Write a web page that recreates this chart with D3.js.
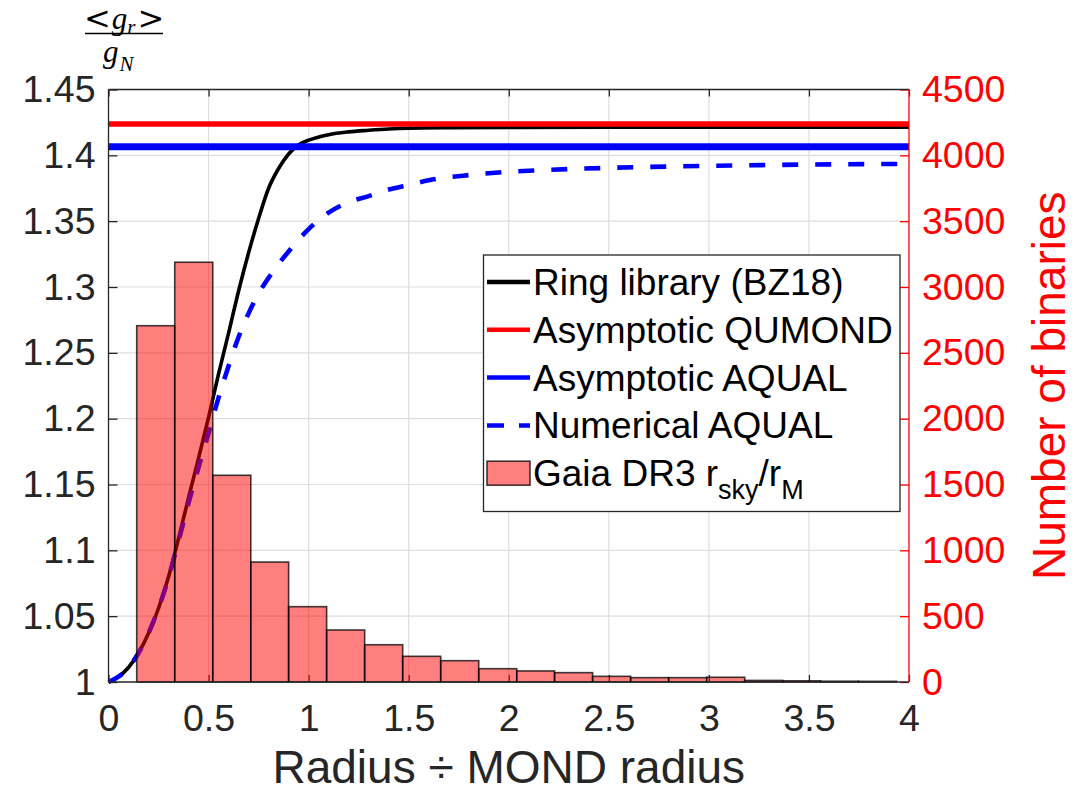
<!DOCTYPE html>
<html>
<head>
<meta charset="utf-8">
<script src="https://cdn.jsdelivr.net/npm/d3@7"></script>
<style>
  body { margin: 0; background: #fff; }
  svg { display: block; font-family: "Liberation Sans", Arial, sans-serif; }
</style>
</head>
<body>
<div id="chart"></div>
<script>
// ring library curve (BZ18): radius / MOND radius vs <g_r>/g_N
var ringRadius = [0, 0.05, 0.1, 0.15, 0.2, 0.25, 0.3, 0.35, 0.4, 0.45, 0.5, 0.55, 0.6, 0.65, 0.7, 0.75, 0.8, 0.85, 0.9, 0.95, 1.0, 1.1, 1.2, 1.3, 1.4, 1.5, 1.7, 2.0, 2.5, 3.0, 4.0];
var ringBoost = [1.0, 1.004, 1.011, 1.022, 1.037, 1.056, 1.080, 1.109, 1.140, 1.170, 1.201, 1.234, 1.265, 1.297, 1.326, 1.352, 1.375, 1.390, 1.401, 1.408, 1.4115, 1.4157, 1.4178, 1.419, 1.4200, 1.4206, 1.4210, 1.4212, 1.4213, 1.4213, 1.4213];

// numerical AQUAL curve
var aqualRadius = [0, 0.05, 0.1, 0.15, 0.2, 0.25, 0.3, 0.35, 0.4, 0.45, 0.5, 0.55, 0.6, 0.65, 0.7, 0.75, 0.8, 0.9, 1.0, 1.1, 1.2, 1.3, 1.4, 1.5, 1.6, 1.8, 2.0, 2.2, 2.5, 3.0, 3.5, 4.0];
var aqualBoost = [1.0, 1.004, 1.011, 1.022, 1.037, 1.056, 1.079, 1.107, 1.136, 1.163, 1.189, 1.216, 1.240, 1.262, 1.280, 1.295, 1.307, 1.327, 1.344, 1.3565, 1.3645, 1.369, 1.374, 1.3775, 1.381, 1.385, 1.3875, 1.389, 1.3905, 1.392, 1.393, 1.3935];

// asymptotic values
var qumondLevel = 1.4238;
var aqualLevel = 1.4066;

// Gaia DR3 histogram of r_sky / r_M
var binEdges = [0.141, 0.331, 0.521, 0.711, 0.900, 1.090, 1.280, 1.470, 1.660, 1.850, 2.040, 2.229, 2.419, 2.609, 2.799, 2.989, 3.179, 3.369, 3.558, 3.748, 3.938];
var binCounts = [2706, 3188, 1570, 911, 572, 395, 283, 195, 162, 101, 84, 71, 43, 33, 33, 36, 12, 9, 6, 5];

// ticks
var xTicks = [0, 0.5, 1, 1.5, 2, 2.5, 3, 3.5, 4];
var xTickLabels = ["0", "0.5", "1", "1.5", "2", "2.5", "3", "3.5", "4"];
var leftTicks = [1, 1.05, 1.1, 1.15, 1.2, 1.25, 1.3, 1.35, 1.4, 1.45];
var leftTickLabels = ["1", "1.05", "1.1", "1.15", "1.2", "1.25", "1.3", "1.35", "1.4", "1.45"];
var rightTicks = [0, 500, 1000, 1500, 2000, 2500, 3000, 3500, 4000, 4500];

var legendLabels = ["Ring library (BZ18)", "Asymptotic QUMOND", "Asymptotic AQUAL", "Numerical AQUAL"];

var width = 1079, height = 796;
// plot box (window.top is read only, so no bare "top")
var plotL = 108.5, plotR = 909, plotT = 89.5, plotB = 682;
var axisColor = "#262626";

var x = d3.scaleLinear().domain([0, 4]).range([plotL, plotR]);
var yL = d3.scaleLinear().domain([1, 1.45]).range([plotB, plotT]);
var yR = d3.scaleLinear().domain([0, 4500]).range([plotB, plotT]);

var svg = d3.select("#chart").append("svg")
    .attr("width", width)
    .attr("height", height);

svg.append("rect").attr("width", width).attr("height", height).attr("fill", "#fff");

// grid
var grid = svg.append("g").attr("stroke", "#dedede").attr("stroke-width", 1.2);
grid.selectAll(".gx").data(xTicks.slice(1, -1)).join("line")
    .attr("x1", d => x(d)).attr("x2", d => x(d))
    .attr("y1", plotT).attr("y2", plotB);
grid.selectAll(".gy").data(leftTicks.slice(1, -1)).join("line")
    .attr("x1", plotL).attr("x2", plotR)
    .attr("y1", d => yL(d)).attr("y2", d => yL(d));

// curves
var line = d3.line()
    .x(d => x(d[0]))
    .y(d => yL(d[1]))
    .curve(d3.curveMonotoneX);

var ringData = ringRadius.map((r, i) => [r, ringBoost[i]]);
var aqualData = aqualRadius.map((r, i) => [r, aqualBoost[i]]);

svg.append("path")
    .datum(ringData)
    .attr("d", line)
    .attr("fill", "none")
    .attr("stroke", "#000")
    .attr("stroke-width", 3.6);

svg.append("path")
    .datum(aqualData)
    .attr("d", line)
    .attr("fill", "none")
    .attr("stroke", "#0000ff")
    .attr("stroke-width", 4.6)
    .attr("stroke-dasharray", "16 17");

svg.append("line")
    .attr("x1", x(0)).attr("x2", x(4))
    .attr("y1", yL(qumondLevel)).attr("y2", yL(qumondLevel))
    .attr("stroke", "#ff0000").attr("stroke-width", 5.5);

svg.append("line")
    .attr("x1", x(0)).attr("x2", x(4))
    .attr("y1", yL(aqualLevel)).attr("y2", yL(aqualLevel))
    .attr("stroke", "#0000ff").attr("stroke-width", 7);

// axis ticks under the histogram (matlab draws them inside)
var axes = svg.append("g");

axes.append("g")
    .attr("transform", `translate(0,${plotB})`)
    .call(d3.axisBottom(x).tickValues(xTicks).tickFormat((d, i) => xTickLabels[i])
        .tickSizeInner(-7).tickSizeOuter(0).tickPadding(22));

axes.append("g")
    .attr("transform", `translate(0,${plotT})`)
    .call(d3.axisTop(x).tickValues(xTicks).tickFormat("")
        .tickSizeInner(-7).tickSizeOuter(0));

axes.append("g")
    .attr("transform", `translate(${plotL},0)`)
    .call(d3.axisLeft(yL).tickValues(leftTicks).tickFormat((d, i) => leftTickLabels[i])
        .tickSizeInner(-9).tickSizeOuter(0).tickPadding(13));

var rightAxis = axes.append("g")
    .attr("transform", `translate(${plotR},0)`)
    .call(d3.axisRight(yR).tickValues(rightTicks).tickFormat(d3.format("d"))
        .tickSizeInner(-9).tickSizeOuter(0).tickPadding(13));

axes.selectAll("text")
    .attr("font-size", 37.5)
    .attr("font-family", "Liberation Sans, Arial, sans-serif")
    .attr("fill", axisColor);
axes.selectAll(".tick line").attr("stroke", axisColor).attr("stroke-width", 1.3);
axes.selectAll(".domain").remove();
rightAxis.selectAll("text").attr("fill", "#ff0000");
rightAxis.selectAll(".tick line").attr("stroke", "#ff0000");

// histogram on right axis
svg.append("g")
    .selectAll("rect")
    .data(binCounts)
    .join("rect")
    .attr("x", (d, i) => x(binEdges[i]))
    .attr("width", (d, i) => x(binEdges[i + 1]) - x(binEdges[i]))
    .attr("y", d => yR(d))
    .attr("height", d => yR(0) - yR(d))
    .attr("fill", "#ff0000")
    .attr("fill-opacity", 0.5)
    .attr("stroke", "#000")
    .attr("stroke-opacity", 0.75)
    .attr("stroke-width", 1.6);

// box
svg.append("line").attr("x1", plotL).attr("x2", plotR).attr("y1", plotB).attr("y2", plotB)
    .attr("stroke", axisColor).attr("stroke-width", 1.3);
svg.append("line").attr("x1", plotL).attr("x2", plotR).attr("y1", plotT).attr("y2", plotT)
    .attr("stroke", axisColor).attr("stroke-width", 1.3);
svg.append("line").attr("x1", plotL).attr("x2", plotL).attr("y1", plotT).attr("y2", plotB)
    .attr("stroke", axisColor).attr("stroke-width", 1.3);
svg.append("line").attr("x1", plotR).attr("x2", plotR).attr("y1", plotT).attr("y2", plotB)
    .attr("stroke", "#ff0000").attr("stroke-width", 1.3);

// axis labels
svg.append("text")
    .attr("x", (plotL + plotR) / 2)
    .attr("y", 783)
    .attr("text-anchor", "middle")
    .attr("font-size", 46)
    .attr("fill", axisColor)
    .text("Radius \u00f7 MOND radius");

svg.append("text")
    .attr("transform", `translate(1065,${(plotT + plotB) / 2}) rotate(-90)`)
    .attr("text-anchor", "middle")
    .attr("font-size", 46)
    .attr("fill", "#ff0000")
    .text("Number of binaries");

// left label: <g_r> / g_N (latex style fraction)
var frac = svg.append("g")
    .attr("font-family", "Liberation Serif, Times New Roman, serif")
    .attr("font-style", "italic")
    .attr("fill", "#000");
var num = frac.append("text").attr("x", 84).attr("y", 29).attr("font-size", 31);
num.append("tspan").attr("font-style", "normal").attr("font-family", "DejaVu Serif, serif").attr("font-size", 32).text("<");
num.append("tspan").attr("dx", 1).text("g");
num.append("tspan").attr("font-size", 21).attr("dy", 5).text("r");
num.append("tspan").attr("font-style", "normal").attr("font-family", "DejaVu Serif, serif").attr("font-size", 32).attr("dx", 2).attr("dy", -5).text(">");
frac.append("line").attr("x1", 85).attr("x2", 163).attr("y1", 33.5).attr("y2", 33.5)
    .attr("stroke", "#000").attr("stroke-width", 1.5);
var den = frac.append("text").attr("x", 103).attr("y", 62).attr("font-size", 31);
den.append("tspan").text("g");
den.append("tspan").attr("font-size", 21).attr("dy", 9).attr("dx", 1).text("N");

// legend
var lg = svg.append("g");
lg.append("rect")
    .attr("x", 483.5).attr("y", 255).attr("width", 416.5).attr("height", 256.5)
    .attr("fill", "#fff").attr("stroke", axisColor).attr("stroke-width", 1.3);

var rowY = d => 282 + d * 47.8;
var legendStyles = [
    {color: "#000", w: 4.5, dash: null},
    {color: "#ff0000", w: 4.5, dash: null},
    {color: "#0000ff", w: 4.5, dash: null},
    {color: "#0000ff", w: 4.5, dash: "17 15"}
];
legendLabels.forEach(function(label, i) {
    lg.append("line")
        .attr("x1", 487).attr("x2", 530)
        .attr("y1", rowY(i)).attr("y2", rowY(i))
        .attr("stroke", legendStyles[i].color)
        .attr("stroke-width", legendStyles[i].w)
        .attr("stroke-dasharray", legendStyles[i].dash);
    lg.append("text")
        .attr("x", 533).attr("y", rowY(i) + 13)
        .attr("font-size", 37)
        .attr("fill", "#000")
        .text(label);
});
lg.append("rect")
    .attr("x", 487).attr("y", rowY(4) - 12).attr("width", 43).attr("height", 24)
    .attr("fill", "#ff0000").attr("fill-opacity", 0.5)
    .attr("stroke", "#000").attr("stroke-opacity", 0.75).attr("stroke-width", 1.6);
var gaia = lg.append("text").attr("x", 533).attr("y", rowY(4) + 13).attr("font-size", 37).attr("fill", "#000");
gaia.append("tspan").text("Gaia DR3 r");
gaia.append("tspan").attr("font-size", 27).attr("dy", 13).text("sky");
gaia.append("tspan").attr("dy", -13).text("/r");
gaia.append("tspan").attr("font-size", 27).attr("dy", 13).text("M");
</script>
</body>
</html>
